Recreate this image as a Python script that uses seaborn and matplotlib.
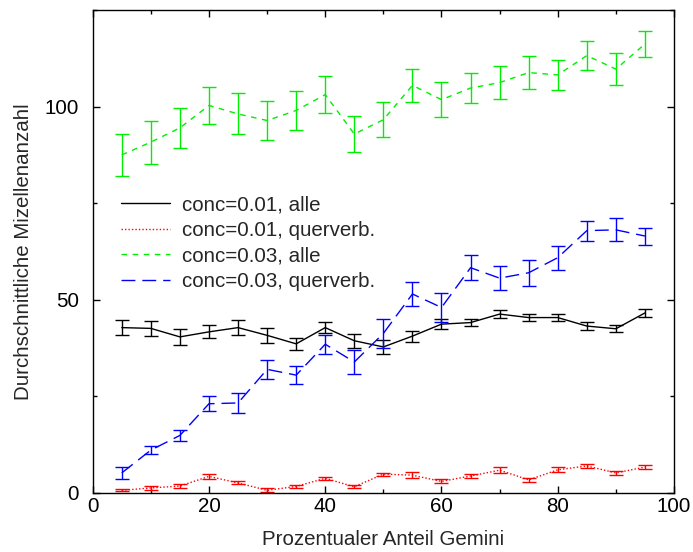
import numpy as np
import pandas as pd
import matplotlib
matplotlib.use("Agg")
import matplotlib.pyplot as plt
from matplotlib.ticker import MultipleLocator
import seaborn as sns

# Anteil Gemini in Prozent
gemini = [5, 10, 15, 20, 25, 30, 35, 40, 45, 50, 55, 60, 65, 70, 75, 80, 85, 90, 95]

# conc=0.01, alle Mizellen
c01_alle = [42.8, 42.6, 40.4, 41.7, 42.8, 40.8, 38.6, 42.8, 39.4, 37.8, 40.6, 43.7, 44.1,
            46.3, 45.4, 45.4, 43.2, 42.5, 46.6]
c01_alle_err = [2.0, 2.0, 2.0, 1.7, 2.0, 2.0, 1.5, 1.5, 1.8, 1.7, 1.4, 1.2, 1.0,
                1.0, 1.0, 1.0, 1.0, 0.9, 1.0]

# conc=0.01, querverbundene Mizellen
c01_quer = [0.7, 1.3, 1.8, 4.3, 2.6, 0.7, 1.7, 3.8, 1.6, 4.9, 4.6, 3.0, 4.4,
            5.9, 3.4, 6.0, 7.0, 5.2, 6.7]
c01_quer_err = [0.3, 0.4, 0.6, 0.6, 0.4, 0.5, 0.4, 0.4, 0.4, 0.4, 0.8, 0.5, 0.5,
                0.7, 0.6, 0.6, 0.6, 0.6, 0.6]

# conc=0.03, alle Mizellen
c03_alle = [87.5, 90.8, 94.5, 100.3, 98.1, 96.4, 99.0, 103.1, 92.9, 96.6, 105.5, 101.8, 104.8,
            106.2, 108.8, 108.2, 113.2, 109.7, 116.2]
c03_alle_err = [5.4, 5.6, 5.2, 4.7, 5.3, 5.0, 5.0, 4.8, 4.6, 4.5, 4.2, 4.5, 3.9,
                4.2, 4.2, 3.9, 3.8, 4.1, 3.4]

# conc=0.03, querverbundene Mizellen
c03_quer = [5.2, 11.1, 14.9, 23.1, 23.3, 32.0, 30.5, 38.5, 33.9, 41.3, 51.5, 48.0, 58.3,
            55.6, 57.0, 60.9, 67.9, 68.1, 66.5]
c03_quer_err = [1.6, 1.1, 1.5, 2.0, 2.5, 2.4, 2.3, 2.5, 3.2, 3.7, 3.0, 3.7, 3.2,
                3.1, 3.4, 3.1, 2.6, 3.0, 2.2]

labels = ["conc=0.01, alle", "conc=0.01, querverb.",
          "conc=0.03, alle", "conc=0.03, querverb."]
values = [c01_alle, c01_quer, c03_alle, c03_quer]
errors = [c01_alle_err, c01_quer_err, c03_alle_err, c03_quer_err]
colors = ["#000000", "#ff0000", "#00ee00", "#0000ff"]
dashes = {labels[0]: "", labels[1]: (1, 1.5), labels[2]: (4, 4), labels[3]: (10, 5)}

df = pd.concat(
    [pd.DataFrame({"gemini": gemini, "anzahl": v, "err": e, "serie": lab})
     for lab, v, e in zip(labels, values, errors)],
    ignore_index=True,
)

FS = 14.8

sns.set_style("ticks")
plt.rcParams["font.family"] = ["Liberation Sans", "DejaVu Sans"]
plt.rcParams["font.size"] = FS

fig = plt.figure(figsize=(6.93, 5.52), dpi=100)
ax = fig.add_axes([0.1338, 0.1069, 0.9726 - 0.1338, 0.9819 - 0.1069])

palette = dict(zip(labels, colors))
sns.lineplot(data=df, x="gemini", y="anzahl", hue="serie", style="serie",
             palette=palette, dashes=dashes, hue_order=labels, style_order=labels,
             linewidth=1.0, ax=ax, legend=True)

for lab, col in zip(labels, colors):
    sub = df[df["serie"] == lab]
    ax.errorbar(sub["gemini"], sub["anzahl"], yerr=sub["err"], fmt="none",
                ecolor=col, elinewidth=1.0, capsize=4.8, capthick=1.0)

ax.set_xlim(0, 100)
ax.set_ylim(0, 125)
ax.xaxis.set_major_locator(MultipleLocator(20))
ax.xaxis.set_minor_locator(MultipleLocator(10))
ax.yaxis.set_major_locator(MultipleLocator(50))
ax.yaxis.set_minor_locator(MultipleLocator(25))
ax.tick_params(which="both", direction="in", top=True, right=True, width=1.0,
               labelsize=FS, colors="black")
ax.tick_params(which="major", length=5)
ax.tick_params(which="minor", length=2.6)
ax.tick_params(axis="y", which="both", pad=10)
ax.tick_params(axis="x", which="both", pad=3)
for sp in ax.spines.values():
    sp.set_visible(True)
    sp.set_linewidth(1.0)
    sp.set_color("black")

ax.set_xlabel("Prozentualer Anteil Gemini", fontsize=FS, labelpad=10)
ax.set_ylabel("Durchschnittliche Mizellenanzahl", fontsize=FS, labelpad=8)

leg = ax.legend(loc="center left", bbox_to_anchor=(0.048, 0.517), frameon=False,
                fontsize=FS, handlelength=2.4, handletextpad=0.6,
                labelspacing=0.33, borderpad=0, borderaxespad=0)
for h in leg.get_lines():
    h.set_linewidth(1.0)

fig.savefig("out.png", dpi=100)
